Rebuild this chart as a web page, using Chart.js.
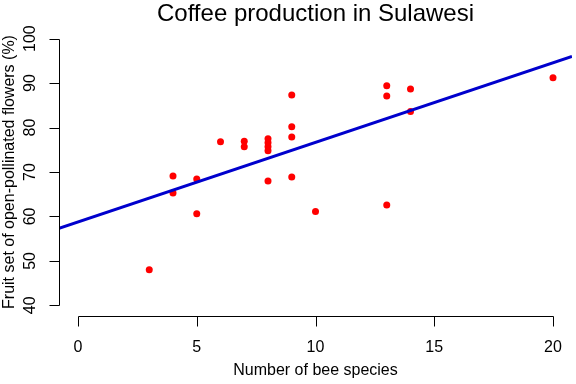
<!DOCTYPE html>
<html>
<head>
<meta charset="utf-8">
<script src="https://cdn.jsdelivr.net/npm/chart.js@4"></script>
<style>
  html, body { margin: 0; padding: 0; background: #fff; }
  #wrap { width: 576px; height: 384px; }
</style>
</head>
<body>
<div id="wrap"><canvas id="coffeeChart" width="576" height="384"></canvas></div>
<script>
// values
const beeSpecies = [3, 4, 4, 5, 5, 6, 7, 7, 8, 8, 8, 8, 8, 9, 9, 9, 9, 10, 13, 13, 13, 14, 14, 20];
const fruitSet = [48.0, 69.1, 65.3, 68.4, 60.6, 76.8, 76.9, 75.7, 77.5, 76.6, 75.7, 74.8, 68.0,
                  87.3, 80.2, 77.9, 68.9, 61.1, 89.4, 87.1, 62.6, 88.7, 83.6, 91.2];
// fitted line, read at both edges of the plot region
const fitX = [-0.8, 20.8];
const fitY = [57.3, 96.0];
const xTicks = [0, 5, 10, 15, 20];
const yTicks = [40, 50, 60, 70, 80, 90, 100];

const titleText = 'Coffee production in Sulawesi';
const xLabel = 'Number of bee species';
const yLabel = 'Fruit set of open-pollinated flowers (%)';
const FONT = '"Liberation Sans", Arial, sans-serif';

// R-style axes, title and labels drawn off the chart's own scales
const baseAxes = {
    id: 'baseAxes',
    afterDraw(chart) {
        const ctx = chart.ctx;
        const area = chart.chartArea;
        const xs = chart.scales.x;
        const ys = chart.scales.y;
        ctx.save();
        ctx.strokeStyle = '#000';
        ctx.fillStyle = '#000';
        ctx.lineWidth = 1;

        // x axis
        const xb = Math.round(area.bottom) + 0.5;
        ctx.beginPath();
        ctx.moveTo(Math.round(xs.getPixelForValue(xTicks[0])) + 0.5, xb);
        ctx.lineTo(Math.round(xs.getPixelForValue(xTicks[xTicks.length - 1])) + 0.5, xb);
        xTicks.forEach(t => {
            const px = Math.round(xs.getPixelForValue(t)) + 0.5;
            ctx.moveTo(px, xb);
            ctx.lineTo(px, xb + 10);
        });
        ctx.stroke();
        ctx.font = '16px ' + FONT;
        ctx.textAlign = 'center';
        ctx.textBaseline = 'middle';
        xTicks.forEach(t => {
            ctx.fillText(String(t), xs.getPixelForValue(t), 348);
        });

        // y axis
        const yl = Math.round(area.left) + 0.5;
        ctx.beginPath();
        ctx.moveTo(yl, Math.round(ys.getPixelForValue(yTicks[0])) + 0.5);
        ctx.lineTo(yl, Math.round(ys.getPixelForValue(yTicks[yTicks.length - 1])) + 0.5);
        yTicks.forEach(t => {
            const py = Math.round(ys.getPixelForValue(t)) + 0.5;
            ctx.moveTo(yl, py);
            ctx.lineTo(yl - 10, py);
        });
        ctx.stroke();
        yTicks.forEach(t => {
            ctx.save();
            ctx.translate(31, ys.getPixelForValue(t));
            ctx.rotate(-Math.PI / 2);
            ctx.fillText(String(t), 0, 0);
            ctx.restore();
        });

        // axis titles
        const midX = (area.left + area.right) / 2;
        const midY = (area.top + area.bottom) / 2;
        ctx.fillText(xLabel, midX, 371);
        ctx.save();
        ctx.translate(10, midY);
        ctx.rotate(-Math.PI / 2);
        ctx.fillText(yLabel, 0, 0);
        ctx.restore();

        // main title
        ctx.font = '24px ' + FONT;
        ctx.fillText(titleText, midX, 14);
        ctx.restore();
    }
};

const ctx = document.getElementById('coffeeChart').getContext('2d');
const myChart = new Chart(ctx, {
    type: 'scatter',
    data: {
        datasets: [
            {
                type: 'line',
                label: 'fit',
                data: fitX.map((x, i) => ({ x: x, y: fitY[i] })),
                borderColor: 'rgb(0, 0, 205)',
                borderWidth: 3,
                pointRadius: 0,
                fill: false,
                tension: 0
            },
            {
                label: 'Fruit set',
                data: beeSpecies.map((x, i) => ({ x: x, y: fruitSet[i] })),
                backgroundColor: 'rgb(255, 0, 0)',
                borderColor: 'rgb(255, 0, 0)',
                borderWidth: 0,
                pointRadius: 3.5
            }
        ]
    },
    options: {
        responsive: false,
        animation: false,
        devicePixelRatio: 1,
        layout: { padding: { left: 59, right: 3, top: 28, bottom: 68 } },
        plugins: {
            legend: { display: false },
            tooltip: { enabled: false },
            title: { display: false }
        },
        scales: {
            x: { type: 'linear', min: -0.8, max: 20.8, display: false },
            y: { type: 'linear', min: 37.6, max: 102.4, display: false }
        }
    },
    plugins: [baseAxes]
});
</script>
</body>
</html>
